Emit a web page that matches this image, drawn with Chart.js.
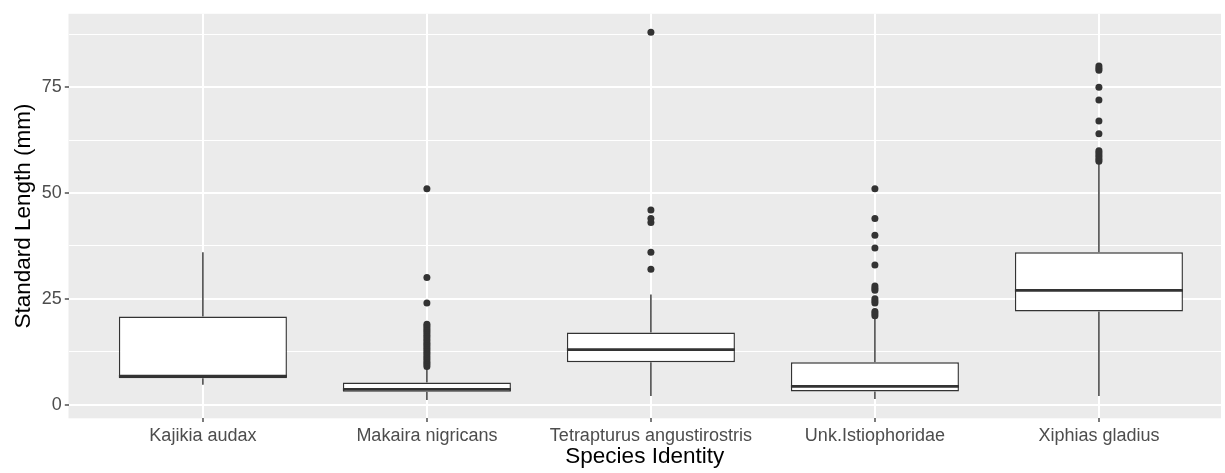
<!DOCTYPE html>
<html>
<head>
<meta charset="utf-8">
<script src="https://cdn.jsdelivr.net/npm/chart.js@4.4.1/dist/chart.umd.min.js"></script>
<style>
  html, body { margin: 0; padding: 0; background: #ffffff; }
  #wrap { position: relative; width: 1225px; height: 473px; }
</style>
</head>
<body>
<div id="wrap"><canvas id="c"></canvas></div>
<script>
// ---- data ----
const categories = ['Kajikia audax', 'Makaira nigricans', 'Tetrapturus angustirostris', 'Unk.Istiophoridae', 'Xiphias gladius'];
const whiskerLow  = [4.7, 1.1, 2.0, 1.3, 2.0];
const q1          = [6.2, 3.0, 10.0, 3.1, 22.0];
const median      = [6.7, 3.6, 13.0, 4.3, 27.0];
const q3          = [20.8, 5.2, 17.0, 10.0, 36.0];
const whiskerHigh = [36.0, 8.5, 26.0, 20.5, 57.0];
const outliersKajikia = [];
const outliersMakaira = [9, 9.5, 10, 10.5, 11, 11.5, 12, 12.5, 13, 13.5, 14, 14.5, 15, 15.5, 16, 16.5, 17, 17.5, 18, 18.5, 19, 24, 30, 51];
const outliersTetrapturus = [32, 36, 43, 44, 46, 88];
const outliersUnk = [21, 21.5, 22, 24, 24.5, 25, 27, 27.5, 28, 33, 37, 40, 44, 51];
const outliersXiphias = [57.5, 58, 58.5, 59, 59.5, 60, 64, 67, 72, 75, 79, 79.5, 80];
const outliers = [outliersKajikia, outliersMakaira, outliersTetrapturus, outliersUnk, outliersXiphias];
const yTickValues = [0, 25, 50, 75];
const yMinorGrid = [12.5, 37.5, 62.5, 87.5];

// ---- styles ----
const BOX_HALF = 0.375;          // half of box width in category units
const INK = '#333333';
const TICK_TEXT = '#4D4D4D';
Chart.defaults.font.family = "'Liberation Sans', Arial, sans-serif";

const boxData = categories.map((c, i) => ({ x: i, y: [q1[i], q3[i]] }));
const medianData = [];
const whiskerData = [];
categories.forEach((c, i) => {
  medianData.push({ x: i - BOX_HALF, y: median[i] }, { x: i + BOX_HALF, y: median[i] }, { x: i, y: null });
  whiskerData.push({ x: i, y: whiskerLow[i] }, { x: i, y: q1[i] }, { x: i, y: null },
                   { x: i, y: q3[i] }, { x: i, y: whiskerHigh[i] }, { x: i, y: null });
});
const outlierData = [];
outliers.forEach((arr, i) => arr.forEach(v => outlierData.push({ x: i, y: v })));

const panelBg = {
  id: 'panelBg',
  beforeDraw(chart) {
    const { ctx, chartArea: a } = chart;
    ctx.save();
    ctx.fillStyle = '#EBEBEB';
    ctx.fillRect(a.left, a.top, a.right - a.left, a.bottom - a.top);
    ctx.restore();
  }
};

new Chart(document.getElementById('c'), {
  type: 'bar',
  data: {
    datasets: [
      { type: 'scatter', data: outlierData, pointRadius: 3.5, pointBackgroundColor: INK, pointBorderWidth: 0, pointBorderColor: INK },
      { type: 'line', data: medianData, borderColor: INK, borderWidth: 2.8, pointRadius: 0, fill: false, spanGaps: false, tension: 0, borderCapStyle: 'butt' },
      { type: 'bar', data: boxData, backgroundColor: '#FFFFFF', borderColor: INK, borderWidth: 1.4, borderSkipped: false, barPercentage: 0.75, categoryPercentage: 1 },
      { type: 'line', data: whiskerData, borderColor: INK, borderWidth: 1.4, pointRadius: 0, fill: false, spanGaps: false, tension: 0, borderCapStyle: 'butt' }
    ]
  },
  options: {
    responsive: true,
    maintainAspectRatio: false,
    animation: false,
    events: [],
    layout: { padding: { top: 13.3, right: 0, bottom: 0, left: 0 } },
    plugins: { legend: { display: false }, tooltip: { enabled: false } },
    scales: {
      x: {
        type: 'linear', min: -0.6, max: 4.545, offset: false,
        afterBuildTicks: s => { s.ticks = categories.map((c, i) => ({ value: i })); },
        afterFit: s => { s.height = 54.7; },
        ticks: { autoSkip: false, maxRotation: 0, minRotation: 0, padding: 3,
                 callback: v => categories[v] ?? '', color: TICK_TEXT, font: { size: 18 } },
        grid: { offset: false, color: '#FFFFFF', lineWidth: 2, drawTicks: true, tickLength: 3.7, tickColor: INK, tickWidth: 1.3 },
        border: { display: false },
        title: { display: true, text: 'Species Identity', color: '#000000', font: { size: 22.5 }, padding: { top: 0, bottom: 3 } }
      },
      y: {
        type: 'linear', min: -3.25, max: 92.35,
        afterBuildTicks: s => { s.ticks = [...yTickValues, ...yMinorGrid].sort((a, b) => a - b).map(v => ({ value: v })); },
        afterFit: s => { s.width = 68.5; },
        ticks: { autoSkip: false, padding: 3, color: TICK_TEXT, font: { size: 18 },
                 callback: v => yTickValues.includes(v) ? String(v) : '' },
        grid: { color: '#FFFFFF',
                lineWidth: ctx => yTickValues.includes(ctx.tick.value) ? 2 : 1.1,
                tickColor: ctx => yTickValues.includes(ctx.tick.value) ? INK : 'rgba(0,0,0,0)',
                tickLength: 3.7, tickWidth: 1.3 },
        border: { display: false },
        title: { display: true, text: 'Standard Length (mm)', color: '#000000', font: { size: 22.5 }, padding: { top: 10, bottom: 0 } }
      }
    }
  },
  plugins: [panelBg]
});
</script>
</body>
</html>
